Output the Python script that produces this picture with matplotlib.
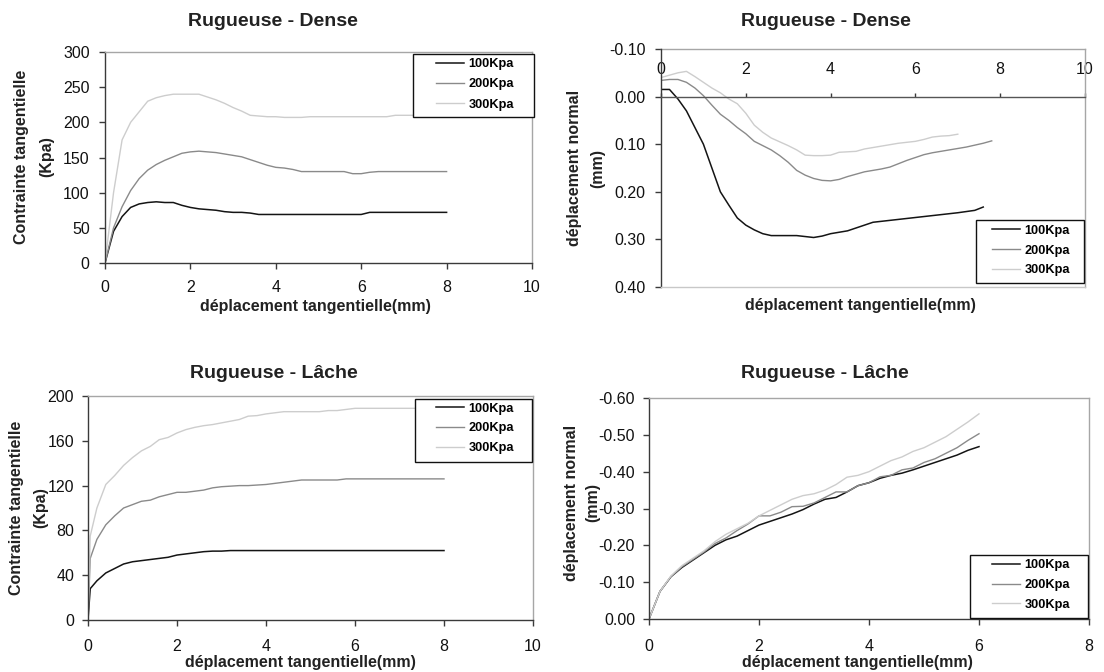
import matplotlib
matplotlib.use("Agg")
import matplotlib.pyplot as plt
from matplotlib.patches import Rectangle
from matplotlib.ticker import FormatStrFormatter, MultipleLocator

plt.rcParams['font.family'] = ['Liberation Sans', 'DejaVu Sans']
plt.rcParams['axes.unicode_minus'] = False

# ---------------- data ----------------
series_labels = ["100Kpa", "200Kpa", "300Kpa"]

# Top-left: Rugueuse - Dense, contrainte tangentielle (Kpa)
tl_x = [0, 0.2, 0.4, 0.6, 0.8, 1.0, 1.2, 1.4, 1.6, 1.8, 2.0, 2.2, 2.4, 2.6, 2.8,
        3.0, 3.2, 3.4, 3.6, 3.8, 4.0, 4.2, 4.4, 4.6, 4.8, 5.0, 5.2, 5.4, 5.6,
        5.8, 6.0, 6.2, 6.4, 6.6, 6.8, 7.0, 7.2, 7.4, 7.6, 7.8, 8.0]
tl_100 = [0, 45, 66, 79, 84, 86, 87, 86, 86, 82, 79, 77, 76, 75, 73,
          72, 72, 71, 69, 69, 69, 69, 69, 69, 69, 69, 69, 69, 69,
          69, 69, 72, 72, 72, 72, 72, 72, 72, 72, 72, 72]
tl_200 = [0, 50, 80, 103, 120, 132, 140, 146, 151, 156, 158, 159, 158, 157, 155,
          153, 151, 147, 143, 139, 136, 135, 133, 130, 130, 130, 130, 130, 130,
          127, 127, 129, 130, 130, 130, 130, 130, 130, 130, 130, 130]
tl_300 = [0, 100, 175, 200, 215, 230, 235, 238, 240, 240, 240, 240, 236, 232, 227,
          221, 216, 210, 209, 208, 208, 207, 207, 207, 208, 208, 208, 208, 208,
          208, 208, 208, 208, 208, 210, 210, 210, 210, 210, 210, 210]

# Top-right: Rugueuse - Dense, deplacement normal (mm)
tr_x100 = [0, 0.2, 0.4, 0.6, 0.8, 1.0, 1.2, 1.4, 1.6, 1.8, 2.0, 2.2, 2.4, 2.6,
           2.8, 3.0, 3.2, 3.4, 3.6, 3.8, 4.0, 4.2, 4.4, 4.6, 4.8, 5.0, 5.4,
           5.8, 6.2, 6.6, 7.0, 7.4, 7.6]
tr_100 = [-0.015, -0.015, 0.005, 0.03, 0.065, 0.10, 0.15, 0.20, 0.228, 0.255,
          0.27, 0.28, 0.288, 0.292, 0.292, 0.292, 0.292, 0.294, 0.296, 0.293,
          0.288, 0.285, 0.282, 0.276, 0.27, 0.264, 0.26, 0.256, 0.252, 0.248,
          0.244, 0.239, 0.232]
tr_x200 = [0, 0.2, 0.4, 0.6, 0.8, 1.0, 1.2, 1.4, 1.6, 1.8, 2.0, 2.2, 2.4, 2.6,
           2.8, 3.0, 3.2, 3.4, 3.6, 3.8, 4.0, 4.2, 4.4, 4.6, 4.8, 5.0, 5.2,
           5.4, 5.6, 5.8, 6.0, 6.2, 6.4, 6.6, 6.8, 7.0, 7.2, 7.4, 7.6, 7.8]
tr_200 = [-0.034, -0.036, -0.036, -0.03, -0.018, -0.002, 0.018, 0.037, 0.05,
          0.065, 0.078, 0.094, 0.103, 0.112, 0.124, 0.138, 0.155, 0.165, 0.172,
          0.176, 0.177, 0.174, 0.168, 0.163, 0.158, 0.155, 0.152, 0.148, 0.141,
          0.134, 0.128, 0.122, 0.118, 0.115, 0.112, 0.109, 0.106, 0.102, 0.098,
          0.093]
tr_x300 = [0, 0.2, 0.4, 0.6, 0.8, 1.0, 1.2, 1.4, 1.6, 1.8, 2.0, 2.2, 2.4, 2.6,
           2.8, 3.0, 3.2, 3.4, 3.6, 3.8, 4.0, 4.2, 4.4, 4.6, 4.8, 5.0, 5.2,
           5.4, 5.6, 5.8, 6.0, 6.2, 6.4, 6.6, 6.8, 7.0]
tr_300 = [-0.04, -0.045, -0.05, -0.053, -0.042, -0.03, -0.018, -0.008, 0.005,
          0.015, 0.035, 0.06, 0.075, 0.087, 0.095, 0.103, 0.112, 0.123, 0.124,
          0.124, 0.123, 0.117, 0.116, 0.115, 0.11, 0.107, 0.104, 0.101, 0.098,
          0.096, 0.094, 0.09, 0.085, 0.083, 0.082, 0.079]

# Bottom-left: Rugueuse - Lache, contrainte tangentielle (Kpa)
bl_x = [0, 0.05, 0.2, 0.4, 0.6, 0.8, 1.0, 1.2, 1.4, 1.6, 1.8, 2.0, 2.2, 2.4,
        2.6, 2.8, 3.0, 3.2, 3.4, 3.6, 3.8, 4.0, 4.2, 4.4, 4.6, 4.8, 5.0, 5.2,
        5.4, 5.6, 5.8, 6.0, 6.4, 6.8, 7.2, 7.6, 8.0]
bl_100 = [0, 28, 35, 42, 46, 50, 52, 53, 54, 55, 56, 58, 59, 60,
          61, 61.5, 61.5, 62, 62, 62, 62, 62, 62, 62, 62, 62, 62, 62,
          62, 62, 62, 62, 62, 62, 62, 62, 62]
bl_200 = [0, 55, 72, 85, 93, 100, 103, 106, 107, 110, 112, 114, 114, 115,
          116, 118, 119, 119.5, 120, 120, 120.5, 121, 122, 123, 124, 125, 125, 125,
          125, 125, 126, 126, 126, 126, 126, 126, 126]
bl_300 = [0, 75, 100, 121, 129, 138, 145, 151, 155, 161, 163, 167, 170, 172,
          173.5, 174.5, 176, 177.5, 179, 182, 182.5, 184, 185, 186, 186, 186, 186, 186,
          187, 187, 188, 189, 189, 189, 189, 189, 189]

# Bottom-right: Rugueuse - Lache, deplacement normal (mm)
br_x = [0, 0.2, 0.4, 0.6, 0.8, 1.0, 1.2, 1.4, 1.6, 1.8, 2.0, 2.2, 2.4, 2.6, 2.8,
        3.0, 3.2, 3.4, 3.6, 3.8, 4.0, 4.2, 4.4, 4.6, 4.8, 5.0, 5.2, 5.4, 5.6,
        5.8, 6.0]
br_100 = [0, -0.075, -0.115, -0.14, -0.16, -0.18, -0.20, -0.215, -0.225, -0.24,
          -0.255, -0.265, -0.275, -0.285, -0.297, -0.312, -0.325, -0.33, -0.345,
          -0.362, -0.37, -0.382, -0.39, -0.396, -0.405, -0.415, -0.425, -0.435,
          -0.445, -0.458, -0.468]
br_200 = [0, -0.075, -0.115, -0.142, -0.162, -0.182, -0.205, -0.22, -0.24, -0.258,
          -0.28, -0.28, -0.29, -0.305, -0.306, -0.315, -0.33, -0.345, -0.345,
          -0.362, -0.37, -0.386, -0.39, -0.405, -0.41, -0.425, -0.435, -0.45,
          -0.465, -0.485, -0.503]
br_300 = [0, -0.075, -0.117, -0.145, -0.165, -0.185, -0.21, -0.23, -0.245, -0.26,
          -0.28, -0.295, -0.31, -0.325, -0.335, -0.34, -0.35, -0.365, -0.385,
          -0.39, -0.40, -0.415, -0.43, -0.44, -0.455, -0.465, -0.48, -0.495,
          -0.515, -0.535, -0.557]

titles = ["Rugueuse - Dense", "Rugueuse - Dense", "Rugueuse - Lâche", "Rugueuse - Lâche"]
xlabel_text = "déplacement tangentielle(mm)"
ylabel_stress = "Contrainte tangentielle\n(Kpa)"
ylabel_normal = "déplacement normal\n(mm)"

# ---------------- styling ----------------
W, H = 1104, 672
line_colors = ["#141414", "#8a8a8a", "#cdcdcd"]
line_widths = [1.1, 1.0, 1.0]
dark = "#3a3a3a"
frame = "#a6a6a6"
TICK_FS = 11.5
LEG_FS = 9.2

fig = plt.figure(figsize=(W / 100, H / 100), dpi=100)


def px_axes(l, t, r, b):
    return fig.add_axes([l / W, 1 - b / H, (r - l) / W, (b - t) / H])


def ftext(x, y, s, **kw):
    fig.text(x / W, 1 - y / H, s, ha="center", va="center", **kw)


def style(ax):
    for side in ["left", "bottom"]:
        ax.spines[side].set_color(dark)
        ax.spines[side].set_linewidth(1.0)
    for side in ["top", "right"]:
        ax.spines[side].set_color(frame)
        ax.spines[side].set_linewidth(1.0)
    ax.tick_params(direction="out", length=4, width=1, color=dark,
                   labelsize=TICK_FS, labelcolor="#111111")


# ---- Top-left
ax1 = px_axes(105, 52, 532, 263)
for yv, c, lw, lab in zip([tl_100, tl_200, tl_300], line_colors, line_widths, series_labels):
    ax1.plot(tl_x, yv, color=c, lw=lw, label=lab)
ax1.set_xlim(0, 10)
ax1.set_ylim(0, 300)
ax1.xaxis.set_major_locator(MultipleLocator(2))
ax1.yaxis.set_major_locator(MultipleLocator(50))
style(ax1)
ax1.tick_params(axis="x", pad=8)
ax1.tick_params(axis="y", pad=7)

# ---- Top-right
ax2 = px_axes(661, 49, 1085, 287)
for xv, yv, c, lw, lab in zip([tr_x100, tr_x200, tr_x300], [tr_100, tr_200, tr_300],
                              line_colors, line_widths, series_labels):
    ax2.plot(xv, yv, color=c, lw=lw, label=lab)
ax2.set_xlim(0, 10)
ax2.set_ylim(0.40, -0.10)
ax2.xaxis.set_major_locator(MultipleLocator(2))
ax2.yaxis.set_major_locator(MultipleLocator(0.10))
ax2.yaxis.set_major_formatter(FormatStrFormatter("%.2f"))
style(ax2)
ax2.xaxis.tick_top()
ax2.spines["top"].set_position(("data", 0))
ax2.spines["top"].set_color("#555555")
ax2.spines["bottom"].set_color("#c8c8c8")
ax2.plot([0, 1], [1, 1], transform=ax2.transAxes, color=frame, lw=1.0, clip_on=False)
ax2.tick_params(axis="x", pad=11, length=3)
ax2.tick_params(axis="y", pad=7)

# ---- Bottom-left
ax3 = px_axes(88, 396, 533, 620)
for yv, c, lw, lab in zip([bl_100, bl_200, bl_300], line_colors, line_widths, series_labels):
    ax3.plot(bl_x, yv, color=c, lw=lw, label=lab)
ax3.set_xlim(0, 10)
ax3.set_ylim(0, 200)
ax3.xaxis.set_major_locator(MultipleLocator(2))
ax3.yaxis.set_major_locator(MultipleLocator(40))
style(ax3)
ax3.tick_params(axis="x", pad=10)
ax3.tick_params(axis="y", pad=6)

# ---- Bottom-right
ax4 = px_axes(649, 398, 1089, 619)
for yv, c, lw, lab in zip([br_100, br_200, br_300], line_colors, line_widths, series_labels):
    ax4.plot(br_x, yv, color=c, lw=lw, label=lab)
ax4.set_xlim(0, 8)
ax4.set_ylim(0, -0.60)
ax4.xaxis.set_major_locator(MultipleLocator(2))
ax4.yaxis.set_major_locator(MultipleLocator(0.10))
ax4.yaxis.set_major_formatter(FormatStrFormatter("%.2f"))
style(ax4)
ax4.tick_params(axis="x", pad=10.5)
ax4.tick_params(axis="y", pad=6)

# ---- legends (box in px, content centre in px)
for ax, box, cx, cy, spacing in [
        (ax1, (413, 54, 534, 117), 475, 84.5, 0.66),
        (ax2, (976, 220, 1084, 283), 1031, 250.5, 0.6),
        (ax3, (415, 399, 532, 462), 475, 428.5, 0.62),
        (ax4, (970, 555, 1088, 618), 1031, 585, 0.6)]:
    lg = ax.legend(loc="center", bbox_to_anchor=(cx / W, 1 - cy / H),
                   bbox_transform=fig.transFigure, frameon=False,
                   borderaxespad=0, borderpad=0,
                   prop={"weight": "bold", "size": LEG_FS}, handlelength=2.2,
                   handletextpad=0.35, labelspacing=spacing)
    lg.set_zorder(6)
    l, t, r, b = box
    ax.add_patch(Rectangle((l / W, 1 - b / H), (r - l) / W, (b - t) / H,
                           transform=fig.transFigure, facecolor="white",
                           edgecolor="#111111", lw=1.0, zorder=5, clip_on=False))

# ---- titles and labels
tkw = dict(fontsize=14, fontweight="bold", color="#222222")
ftext(273, 22, titles[0], **tkw)
ftext(826, 22, titles[1], **tkw)
ftext(274, 374, titles[2], **tkw)
ftext(825, 374, titles[3], **tkw)

lkw = dict(fontsize=11.5, fontweight="bold", color="#222222")
ftext(315, 307, xlabel_text, **lkw)
ftext(860, 305, xlabel_text, **lkw)
ftext(300, 663, xlabel_text, **lkw)
ftext(857, 663, xlabel_text, **lkw)

ykw = dict(fontsize=11.5, fontweight="bold", color="#222222", rotation=90,
           multialignment="center")
ftext(34, 157, ylabel_stress, linespacing=1.8, **ykw)
ftext(586, 168, ylabel_normal, linespacing=1.75, **ykw)
ftext(29, 508, ylabel_stress, linespacing=1.75, **ykw)
ftext(582, 503, ylabel_normal, linespacing=1.5, **ykw)

fig.savefig("out.png", dpi=100)
